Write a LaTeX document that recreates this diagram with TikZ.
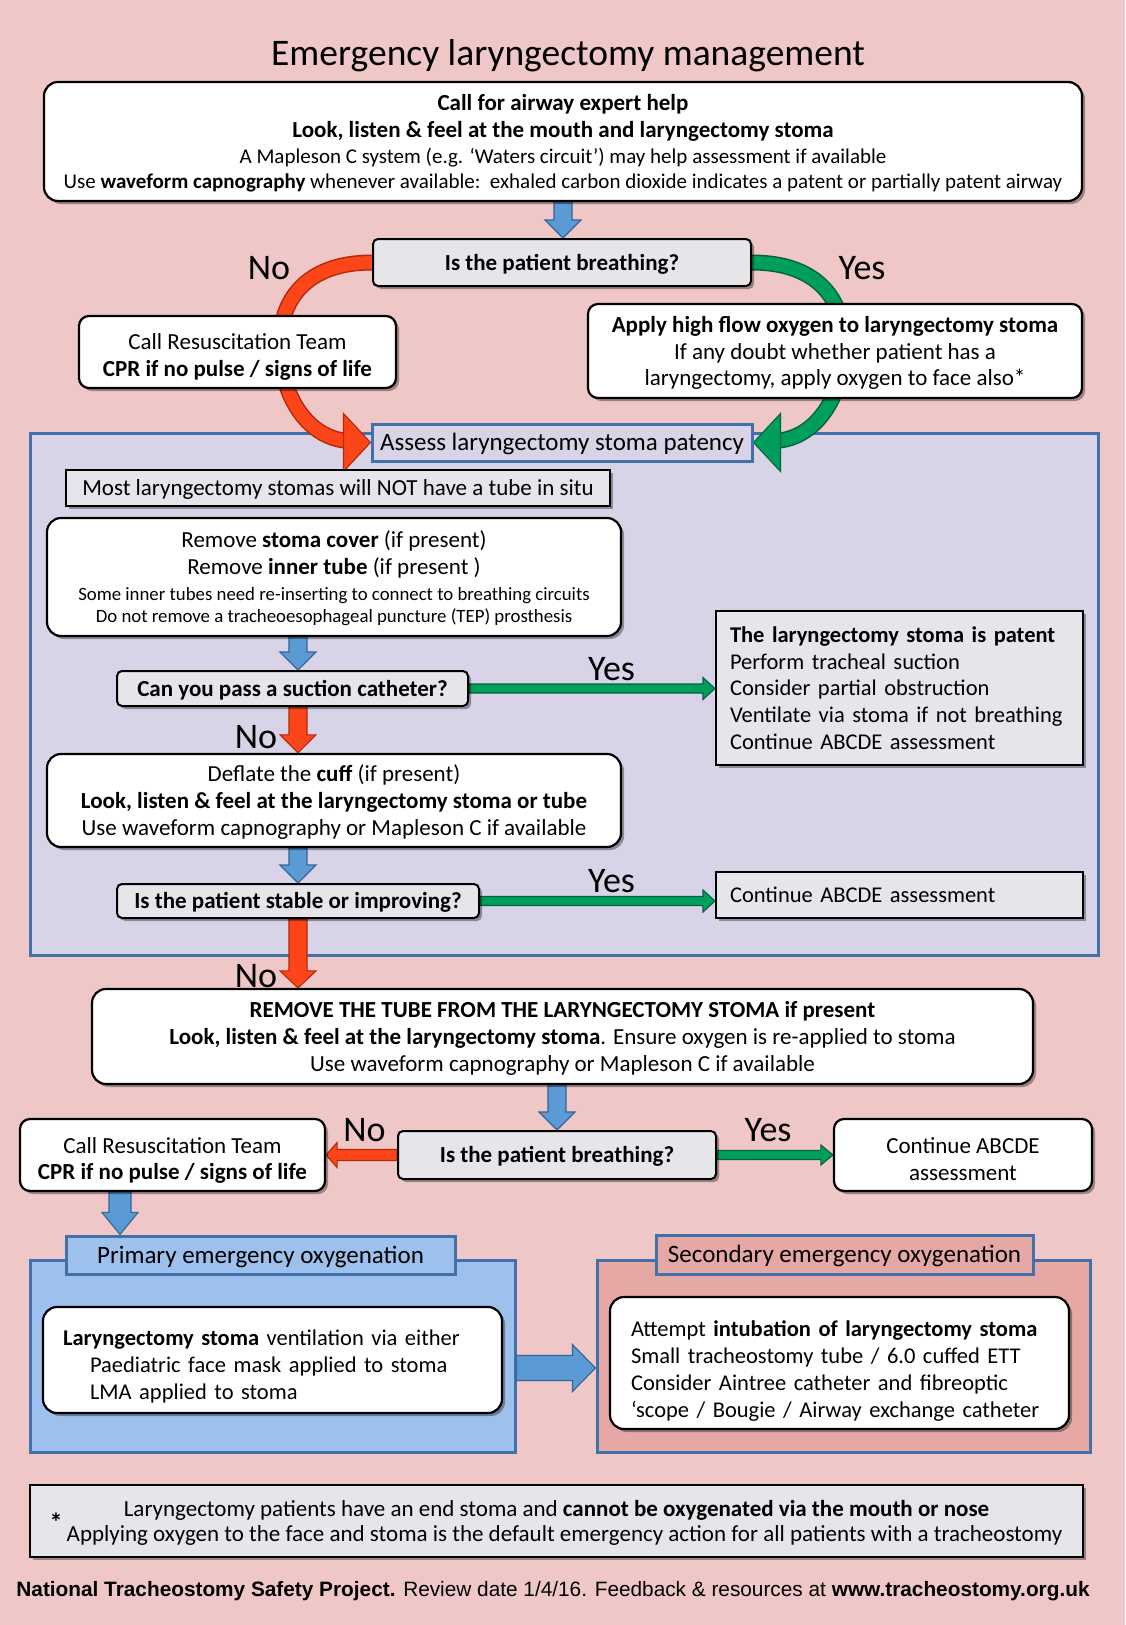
\documentclass[tikz,border=0pt]{standalone}
\usepackage{fontspec}
\setmainfont{Carlito}
\newfontfamily\arialfont{Liberation Sans}
\usetikzlibrary{calc,shadows}

\definecolor{bgpink}{RGB}{239,199,199}
\definecolor{lav}{RGB}{217,211,232}
\definecolor{boxgray}{RGB}{230,229,234}
\definecolor{bordblue}{RGB}{65,113,170}
\definecolor{primfill}{RGB}{157,193,236}
\definecolor{secfill}{RGB}{229,168,165}
\definecolor{arrblue}{RGB}{91,155,213}
\definecolor{arrbluedk}{RGB}{55,100,150}
\definecolor{redf}{RGB}{252,70,25}
\definecolor{redd}{RGB}{180,40,10}
\definecolor{grnf}{RGB}{0,158,92}
\definecolor{grnd}{RGB}{0,100,60}

\newcommand{\fs}[2]{\fontsize{#1}{#2}\selectfont}
\newcommand{\up}[1]{\rule{0pt}{#1}}

% vertical (downward) block arrow: from, to, style, shaft half, head half, head length
\newcommand{\vblk}[6]{%
  \path[#3] let \p1=(#1), \p2=(#2) in
    ({\x1-#4},{\y1}) -- ({\x1+#4},{\y1}) -- ({\x1+#4},{\y2+#6}) -- ({\x1+#5},{\y2+#6})
    -- ({\x1},{\y2}) -- ({\x1-#5},{\y2+#6}) -- ({\x1-#4},{\y2+#6}) -- cycle;}
% horizontal block arrow: from, to, style, shaft half, head half, signed head length
\newcommand{\hblk}[6]{%
  \path[#3] let \p1=(#1), \p2=(#2) in
    ({\x1},{\y1-#4}) -- ({\x1},{\y1+#4}) -- ({\x2-(#6)},{\y1+#4}) -- ({\x2-(#6)},{\y1+#5})
    -- ({\x2},{\y1}) -- ({\x2-(#6)},{\y1-#5}) -- ({\x2-(#6)},{\y1-#4}) -- cycle;}

\pgfdeclarelayer{bg}\pgfdeclarelayer{arr}\pgfsetlayers{bg,arr,main}

\tikzset{
  shad/.style={drop shadow={shadow xshift=3pt,shadow yshift=-3pt,fill=black,opacity=0.35}},
  wbox/.style={shad, draw=black, line width=2.2pt, fill=white, rounded corners=14pt, inner sep=0pt, align=center},
  qbox/.style={shad, draw=black, line width=2pt, fill=boxgray, rounded corners=5pt, inner sep=0pt, align=center,
               font=\bfseries\fs{23}{27}, text height=15pt, text depth=0pt},
  gbox/.style={shad, draw=black, line width=2pt, fill=boxgray, inner sep=0pt},
  region/.style={draw=bordblue, line width=3pt, inner sep=0pt},
  tabbox/.style={draw=bordblue, line width=3pt, inner sep=0pt, font=\fs{25}{28}, text height=16pt, text depth=0pt},
  yn/.style={font=\fs{36}{36}, inner sep=0pt},
  bluearr/.style={fill=arrblue, draw=arrbluedk, line width=1.1pt},
  redarr/.style={fill=redf, draw=redd, line width=1.1pt},
  grnarr/.style={fill=grnf, draw=grnd, line width=1.1pt},
}

\begin{document}
\begin{tikzpicture}[x=1pt,y=-1pt]
\useasboundingbox (0,0) rectangle (1125,1625);
\begin{pgfonlayer}{bg}
\fill[bgpink] (0,0) rectangle (1125,1625);
\node[region, fill=lav, minimum width=1068pt, minimum height=522pt] (patency) at (564,694) {};
\node[region, fill=primfill, minimum width=485pt, minimum height=192pt] (primreg) at (272.5,1356) {};
\node[region, fill=secfill, minimum width=493pt, minimum height=192pt] (secreg) at (843.5,1356) {};
\end{pgfonlayer}

\node[font=\fs{37.5}{42}, inner sep=0pt, text height=24pt, text depth=0pt] (title) at (568,53.5) {Emergency laryngectomy management};

\node[wbox, minimum width=1038pt, minimum height=119pt, font=\fs{21}{26}] (top) at (563,141.5)
  {\up{20pt}{\bfseries\fs{23}{26}Call for airway expert help}\\[1pt] {\bfseries\fs{23}{26}Look, listen \& feel at the mouth and laryngectomy stoma}\\
   A Mapleson C system (e.g. ‘Waters circuit’) may help assessment if available\\[-1pt]
   Use \textbf{waveform capnography} whenever available:\ \ exhaled carbon dioxide indicates a patent or partially patent airway};

\node[qbox, minimum width=378pt, minimum height=47pt] (q1) at (562,262.5) {Is the patient breathing?};

\node[wbox, rounded corners=10pt, minimum width=317pt, minimum height=72pt, font=\fs{23}{26.5}] (res1) at (237.5,352)
  {\up{26pt}Call Resuscitation Team\\ \textbf{CPR if no pulse / signs of life}};

\node[wbox, rounded corners=10pt, minimum width=494pt, minimum height=94pt, font=\fs{23}{26.5}] (oxy) at (835,351)
  {\up{20pt}\textbf{Apply high flow oxygen to laryngectomy stoma}\\ If any doubt whether patient has a\\ laryngectomy, apply oxygen to face also*};

\node[draw=bordblue, line width=3pt, fill=lav, minimum width=380pt, minimum height=37pt, inner sep=0pt, font=\fs{25}{28},
      text height=16pt, text depth=0pt] (assess) at (562,442.5)
  {Assess laryngectomy stoma patency};

\node[gbox, minimum width=544pt, minimum height=36pt, font=\fs{23}{27}, text height=15pt, text depth=0pt] (most) at (338,488)
  {Most laryngectomy stomas will NOT have a tube in situ};

\node[wbox, minimum width=574pt, minimum height=118pt, font=\fs{23}{27}] (remove) at (334,577)
  {\up{20pt}Remove \textbf{stoma cover} (if present)\\ Remove \textbf{inner tube} (if present )\\[-1pt]
   {\fs{18.8}{22}Some inner tubes need re-inserting to connect to breathing circuits}\\[-5pt]
   {\fs{18.8}{22}Do not remove a tracheoesophageal puncture (TEP) prosthesis}};

\node[qbox, minimum width=351pt, minimum height=35pt] (q2) at (292.5,688.5) {Can you pass a suction catheter?};

\node[gbox, minimum width=367pt, minimum height=154pt, text width=339pt, align=left, font=\fs{22.5}{26.8}] (patent) at (899.5,688)
  {\textbf{The laryngectomy stoma is patent}\\ Perform tracheal suction\\ Consider partial obstruction\\ Ventilate via stoma if not breathing\\ Continue ABCDE assessment};

\node[wbox, minimum width=574pt, minimum height=93pt, font=\fs{23}{27}] (deflate) at (334,800.5)
  {\up{20pt}Deflate the \textbf{cuff} (if present)\\ \textbf{Look, listen \& feel at the laryngectomy stoma or tube}\\ Use waveform capnography or Mapleson C if available};

\node[qbox, minimum width=362pt, minimum height=34pt] (q3) at (298,901) {Is the patient stable or improving?};

\node[gbox, minimum width=367pt, minimum height=46pt, text width=339pt, align=left, font=\fs{22.5}{25}, text height=15pt, text depth=0pt] (cont1) at (899.5,895)
  {Continue ABCDE assessment};

\node[wbox, minimum width=941pt, minimum height=95pt, font=\fs{23}{27}] (rmtube) at (562.5,1036.5)
  {\up{20pt}\textbf{REMOVE THE TUBE FROM THE LARYNGECTOMY STOMA if present}\\
   \textbf{Look, listen \& feel at the laryngectomy stoma}. Ensure oxygen is re-applied to stoma\\
   Use waveform capnography or Mapleson C if available};

\node[qbox, minimum width=318pt, minimum height=48pt] (q4) at (557,1155) {Is the patient breathing?};

\node[wbox, rounded corners=10pt, minimum width=305pt, minimum height=72pt, font=\fs{23}{26.5}] (res2) at (172.5,1155)
  {\up{27pt}Call Resuscitation Team\\ \textbf{CPR if no pulse / signs of life}};

\node[wbox, rounded corners=10pt, minimum width=258pt, minimum height=72pt, font=\fs{23}{26.5}] (cont2) at (963,1155)
  {\up{24pt}Continue ABCDE\\ assessment};

\node[tabbox, fill=primfill, minimum width=389pt, minimum height=38pt] (primtab) at (260.5,1255) {Primary emergency oxygenation};
\node[tabbox, fill=secfill, minimum width=377pt, minimum height=39pt] (sectab) at (844.5,1254.5) {Secondary emergency oxygenation};

\node[wbox, minimum width=459pt, minimum height=106pt, text width=419pt, align=left, font=\fs{22.5}{27}] (prim) at (272.5,1360)
  {\up{29pt}\textbf{Laryngectomy stoma} ventilation via either\\ \hspace*{27pt}Paediatric face mask applied to stoma\\ \hspace*{27pt}LMA applied to stoma};

\node[wbox, minimum width=459pt, minimum height=132pt, text width=417pt, align=left, font=\fs{22.5}{27}] (sec) at (839.5,1363)
  {\up{31pt}Attempt \textbf{intubation of laryngectomy stoma}\\ Small tracheostomy tube / 6.0 cuffed ETT\\ Consider Aintree catheter and fibreoptic\\ ‘scope / Bougie / Airway exchange catheter};

\node[gbox, minimum width=1053pt, minimum height=72pt, align=center, font=\fs{23}{25}] (foot) at (556.5,1521)
  {\up{20pt}Laryngectomy patients have an end stoma and \textbf{cannot be oxygenated via the mouth or nose}\\
   \hspace*{16pt}Applying oxygen to the face and stoma is the default emergency action for all patients with a tracheostomy};
\node[font=\bfseries\fs{26}{26}, inner sep=0pt, anchor=north] (ast) at (56,1513) {*};

\node[font=\arialfont\fs{20.8}{24}, inner sep=0pt, text height=15pt, text depth=0pt] (footer) at (553,1588.5)
  {\textbf{National Tracheostomy Safety Project.} Review date 1/4/16. Feedback \& resources at \textbf{www.tracheostomy.org.uk}};

% Yes / No labels
\node[yn] (no1) at (269,268) {No};
\node[yn] (yes1) at (862,268) {Yes};
\node[yn] (yes2) at (611.5,669.5) {Yes};
\node[yn] (no2) at (256,737) {No};
\node[yn] (yes3) at (611.5,881.5) {Yes};
\node[yn] (no3) at (256,976) {No};
\node[yn] (no4) at (364.5,1130) {No};
\node[yn] (yes4) at (768,1130) {Yes};

\coordinate (ax) at (298,0);
\coordinate (bx) at (120,0);
\coordinate (by) at (0,1368);

\begin{pgfonlayer}{arr}
% curved arrows
\draw[line width=16pt, redd] (q1.west) .. controls (311,262.5) and (280,295) .. (280,345) .. controls (280,395) and (308,441) .. (352,441);
\draw[line width=13pt, redf] (q1.west) .. controls (311,262.5) and (280,295) .. (280,345) .. controls (280,395) and (308,441) .. (352,441);
\path[redarr] let \p1=(assess.west) in (\p1) -- ({\x1-27},{\y1-29}) -- ({\x1-27},{\y1+29}) -- cycle;
\draw[line width=16pt, grnd] (q1.east) .. controls (813,262.5) and (844,295) .. (844,345) .. controls (844,395) and (816,441) .. (772,441);
\draw[line width=13pt, grnf] (q1.east) .. controls (813,262.5) and (844,295) .. (844,345) .. controls (844,395) and (816,441) .. (772,441);
\path[grnarr] let \p1=(assess.east) in (\p1) -- ({\x1+27},{\y1-29}) -- ({\x1+27},{\y1+29}) -- cycle;

% straight arrows
\vblk{top.south}{q1.north}{bluearr}{9}{18}{18}
\vblk{remove.south -| ax}{q2.north -| ax}{bluearr}{9}{18}{18}
\vblk{q2.south -| ax}{deflate.north -| ax}{redarr}{9}{18}{18}
\vblk{deflate.south -| ax}{q3.north -| ax}{bluearr}{9}{18}{18}
\vblk{q3.south -| ax}{rmtube.north -| ax}{redarr}{9}{18}{17}
\vblk{rmtube.south -| q4.north}{q4.north}{bluearr}{9}{18}{18}
\vblk{res2.south -| bx}{primtab.north -| bx}{bluearr}{11}{18}{22}
\hblk{q2.east}{patent.west}{grnarr}{4.5}{11}{12}
\hblk{q3.east}{cont1.west}{grnarr}{4.5}{11}{12}
\hblk{q4.east}{cont2.west}{grnarr}{4.5}{10}{12}
\hblk{q4.west}{res2.east}{redarr}{5.5}{12.5}{-11}
\hblk{primreg.east |- by}{secreg.west}{bluearr}{12.5}{23.5}{23}
\end{pgfonlayer}
\end{tikzpicture}
\end{document}
